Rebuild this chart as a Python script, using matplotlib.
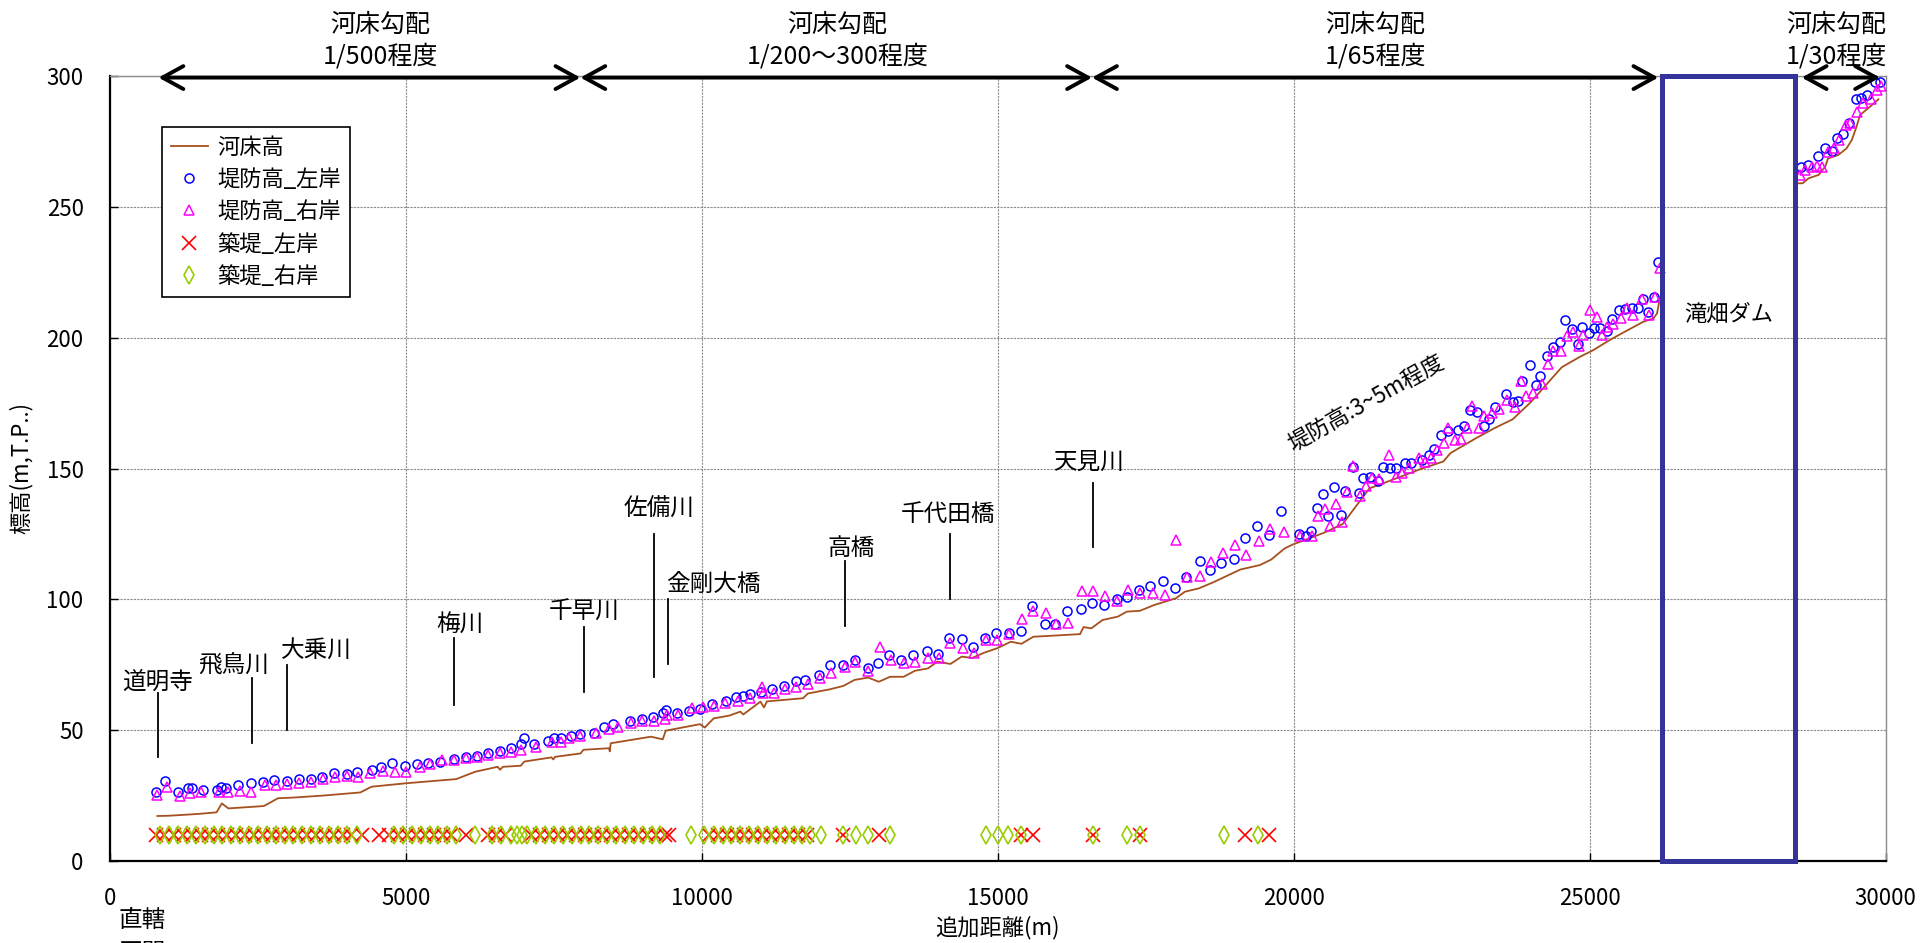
import matplotlib
matplotlib.use("Agg")
import matplotlib.pyplot as plt
import matplotlib.transforms as mtransforms
from matplotlib.patches import Rectangle

plt.rcParams["font.family"] = ["Noto Sans CJK JP", "DejaVu Sans"]

# ---- river bed profile (m, T.P.) ----
bed_lower_x = [800, 1000, 1500, 1800, 1890, 2000, 2600, 2840, 3070, 3600, 4230, 4420, 5000,
               5850, 6170, 6550, 6590, 6640, 6940, 7000, 7460, 7490, 7520, 7950, 8000, 8430,
               8445, 8460, 9140, 9340, 9390, 9970, 10050, 10200, 10470, 10650, 10700, 10990,
               11050, 11100, 11710, 11790, 12160, 12390, 12580, 12810, 12990, 13180, 13410,
               13600, 13820, 13980, 14200, 14390, 14570, 14770, 14990, 15220, 15400, 15600,
               16390, 16450, 16580, 16770, 17030, 17180, 17400, 17640, 18010, 18160, 18400,
               18640, 19100, 19430, 19620, 19850, 20000, 20230, 20530, 20830, 21020, 21280,
               21740, 22110, 22530, 22650, 23090, 23400, 23700, 24000, 24380, 24530, 24830,
               25060, 25340, 25630, 25910, 26080, 26140, 26180]
bed_lower_z = [17.2, 17.3, 18.0, 18.6, 22.0, 20.1, 21.0, 24.0, 24.2, 25.0, 26.2, 28.4, 29.7,
               31.3, 34.1, 36.0, 34.9, 36.0, 36.4, 38.0, 39.6, 38.8, 39.8, 41.1, 42.5, 43.1,
               41.9, 45.0, 47.5, 46.5, 49.8, 52.3, 51.0, 54.5, 55.6, 57.1, 56.0, 60.9,
               58.7, 61.0, 62.2, 64.0, 65.6, 66.9, 69.2, 70.1, 68.5, 70.4, 70.4,
               72.7, 73.6, 76.2, 75.3, 78.1, 77.6, 79.6, 81.3, 83.8, 83.0, 85.7,
               86.7, 89.4, 88.9, 92.1, 93.4, 95.3, 95.6, 97.8, 100.4, 102.9, 104.2,
               106.5, 111.4, 113.1, 115.2, 119.5, 121.1, 123.0, 125.6, 128.8, 134.6, 142.4,
               146.3, 149.5, 152.7, 155.9, 161.7, 165.5, 168.8, 175.2, 184.9, 188.7, 192.6,
               195.2, 199.1, 202.7, 206.1, 207.4, 209.3, 214.1]
bed_upper_x = [28530, 28600, 28700, 28870, 28980, 29030, 29200, 29340, 29430, 29510, 29570,
               29740, 29880]
bed_upper_z = [259.0, 259.0, 260.9, 262.2, 265.3, 268.5, 269.8, 272.3, 275.5, 280.6, 285.1,
               288.3, 291.1]

# ---- levee crown height, left bank ----
levee_left_x = [769, 930, 1157, 1318, 1383, 1577, 1803, 1868, 1965, 2159, 2385, 2579, 2773,
                2999, 3194, 3388, 3582, 3789, 4002, 4177, 4422, 4584, 4758, 4991, 5185, 5379,
                5573, 5812, 6007, 6201, 6395, 6589, 6783, 6944, 6989, 7170, 7397, 7494, 7623,
                7785, 7947, 8173,
                8355, 8506, 8793, 8997, 9170, 9336, 9396, 9577, 9789, 9977, 10166, 10407,
                10581, 10694, 10807, 10996, 11184, 11388, 11584, 11735, 11976, 12165, 12391,
                12595, 12806, 12972, 13168, 13371, 13575, 13801, 13990, 14179, 14390, 14578,
                14782, 14971, 15182, 15385, 15574, 15800, 15974, 16177, 16404, 16592, 16788,
                17007, 17181, 17392, 17580, 17799, 17988, 18176,
                18418, 18584, 18780, 18984, 19172, 19384, 19587, 19791, 20093, 20213, 20289,
                20394, 20500, 20583, 20681, 20802, 20870, 20998, 21096, 21179, 21284, 21420,
                21511, 21624, 21737, 21873, 21978, 22167, 22280, 22378, 22491, 22604, 22778,
                22883, 22981, 23095, 23208, 23306, 23396, 23585, 23698, 23789, 23864, 23985,
                24090, 24166,
                24275, 24388, 24501, 24585, 24698, 24799, 24878, 24996, 25075, 25176, 25289,
                25385, 25497, 25599, 25711, 25813, 25897, 25993, 26089, 26162,
                28567, 28696, 28865, 28978, 29090, 29175, 29288, 29389, 29502, 29580, 29682,
                29823, 29907]
levee_left_z = [26.5, 30.6, 26.5, 27.8, 27.8, 27.1, 27.1, 28.4, 27.8, 29.0, 29.7, 30.3, 31.0,
                30.7, 31.2, 31.5, 32.2, 33.8, 33.3, 34.1, 34.8, 36.0, 37.6, 36.3, 37.1, 37.3,
                38.0, 38.9, 39.9, 40.1, 41.1, 42.2, 43.1, 44.7, 46.9, 44.7, 46.0, 46.9, 46.9,
                47.8, 48.5, 49.0,
                51.1, 52.2, 53.6, 54.3, 54.9, 56.4, 57.7, 56.4, 57.3, 57.9, 59.9, 61.0,
                62.5, 63.1, 63.8, 64.7, 65.6, 66.9, 68.8, 69.2, 71.1, 74.9, 74.9,
                76.8, 73.6, 75.5, 78.7, 76.8, 78.7, 80.4, 79.1, 85.1, 84.7, 81.9,
                85.1, 87.0, 87.3, 88.0, 97.4, 90.6, 90.6, 95.5, 96.4, 98.5, 97.8,
                100.1, 101.0, 103.6, 105.1, 107.1, 104.2, 108.4,
                114.6, 111.4, 113.7, 115.3, 123.3, 128.2, 124.6, 133.6, 125.0, 124.3, 126.2,
                134.9, 140.1, 131.8, 143.0, 132.4, 141.4, 150.5, 140.7, 146.2, 146.6, 145.2,
                150.7, 150.1, 150.1, 152.0, 152.0, 153.3, 155.2, 157.5, 162.9, 164.2, 164.9,
                166.2, 172.2, 171.6, 166.2, 169.1, 173.5, 178.4, 175.6, 175.8, 183.6, 189.6,
                181.9, 185.5,
                193.0, 196.5, 198.5, 206.7, 203.2, 197.6, 203.9, 201.6, 203.8, 203.8, 202.7,
                207.0, 210.6, 210.8, 211.2, 211.2, 214.6, 209.9, 215.4, 228.8,
                265.3, 266.0, 269.4, 272.3, 271.5, 276.2, 277.8, 282.1, 291.1, 291.5, 292.7,
                297.8, 297.8]

# ---- levee crown height, right bank ----
levee_right_x = [801, 963, 1189, 1351, 1545, 1836, 1997, 2191, 2385, 2612, 2806, 2999, 3194,
                 3388, 3595, 3808, 4002, 4196, 4390, 4616, 4810, 5004, 5230, 5405, 5618, 5812,
                 6007, 6201, 6395, 6589, 6783, 6944, 7203, 7461, 7623, 7752, 7947, 8205,
                 8431, 8582, 8808, 8997, 9185, 9374, 9411, 9600, 9826, 10015, 10203, 10392,
                 10618, 10807, 11011, 11033, 11222, 11410, 11599, 11787, 11991, 12187, 12414,
                 12595, 12806, 13009, 13198, 13409, 13598, 13824, 14013, 14201, 14405, 14601,
                 14805, 14993, 15197, 15408, 15597, 15808, 15989, 16185, 16426, 16615, 16804,
                 17007, 17196, 17407, 17618, 17822, 18010, 18199,
                 18418, 18607, 18810, 19006, 19195, 19414, 19602, 19829, 20115, 20304, 20417,
                 20530, 20621, 20719, 20817, 20907, 20998, 21118, 21224, 21322, 21435, 21609,
                 21722, 21827, 21948, 22114, 22227, 22325, 22416, 22544, 22604, 22718, 22831,
                 22921, 23019, 23132, 23208, 23359, 23472, 23608, 23736, 23834, 23924, 24037,
                 24188, 24301,
                 24377, 24517, 24613, 24726, 24822, 24895, 25007, 25120, 25205, 25289, 25402,
                 25526, 25627, 25728, 25880, 26004, 26106, 26190,
                 28555, 28640, 28753, 28837, 28922, 29023, 29130, 29220, 29333, 29400, 29524,
                 29625, 29749, 29851, 29918]
levee_right_z = [25.2, 28.4, 24.8, 25.9, 26.5, 26.5, 26.5, 26.9, 26.5, 29.0, 29.0, 29.4, 29.7,
                 30.3, 31.2, 32.2, 32.5, 32.2, 33.8, 34.5, 34.1, 34.1, 36.0, 37.1, 38.6, 38.6,
                 39.2, 39.6, 40.5, 41.4, 41.8, 42.4, 43.7, 45.6, 45.6, 46.9, 47.8, 48.8,
                 50.3, 51.1, 52.9, 53.6, 53.6, 54.1, 55.8, 55.8, 58.3, 59.0, 59.2, 60.5,
                 61.3, 62.2, 66.4, 64.1, 64.1, 65.6, 66.6, 67.6, 69.8, 72.0, 74.3,
                 76.2, 72.7, 81.9, 76.8, 75.5, 76.2, 77.5, 77.5, 83.2, 81.3, 79.6,
                 84.5, 84.5, 86.7, 92.4, 95.7, 94.9, 90.4, 90.8, 103.3, 103.3, 101.3,
                 99.5, 103.6, 102.3, 102.3, 101.7, 122.7, 108.7,
                 108.8, 114.3, 117.6, 120.8, 116.8, 122.4, 126.9, 125.6, 124.1, 124.3, 131.8,
                 134.6, 128.2, 136.5, 129.7, 141.1, 151.1, 139.5, 143.4, 146.2, 145.9, 155.2,
                 146.9, 148.1, 150.1, 154.2, 152.4, 153.9, 157.2, 159.7, 165.5, 161.0, 161.4,
                 165.3, 173.9, 165.5, 170.0, 171.3, 172.6, 176.1, 173.5, 183.6, 177.8, 178.7,
                 182.3, 190.0,
                 195.0, 195.0, 200.6, 202.3, 196.8, 201.0, 210.6, 208.0, 201.0, 204.2, 205.1,
                 207.6, 211.2, 208.6, 214.6, 208.6, 215.4, 226.5,
                 262.1, 264.1, 265.3, 265.6, 265.3, 271.1, 272.3, 275.5, 281.3, 281.9, 286.4,
                 289.5, 291.1, 294.6, 296.2]

# ---- stations with embankment works (plotted on a marker row) ----
embank_row_level = 10
embank_left_x = [780, 920, 1080, 1230, 1380, 1530, 1680, 1830, 1980, 2130, 2280, 2430, 2580,
                 2730, 2880, 3030, 3180, 3330, 3480, 3630, 3780, 3930, 4080, 4250,
                 4550, 4720, 4870, 5020, 5170, 5320, 5470, 5620, 5770, 6010,
                 6380, 6530, 6680,
                 7120, 7270, 7420, 7570, 7720, 7870, 8020, 8170, 8320, 8470, 8620, 8770, 8920,
                 9070, 9220, 9370, 9450,
                 10120, 10270, 10420, 10570, 10720, 10870, 11020, 11170, 11320, 11470, 11620,
                 11770,
                 12390, 12990, 15400, 15600, 16610, 17400, 19180, 19590]
embank_right_x = [850, 1000, 1150, 1300, 1450, 1600, 1750, 1900, 2050, 2200, 2350, 2500, 2650,
                  2800, 2950, 3100, 3250, 3400, 3550, 3700, 3850, 4000, 4170,
                  4800, 4950, 5100, 5250, 5400, 5550, 5700, 5850,
                  6170, 6450, 6600, 6780, 6870, 6960, 7040,
                  7200, 7350, 7500, 7650, 7800, 7950, 8100, 8250, 8400, 8550, 8700, 8850, 9000,
                  9150, 9300,
                  9820, 10030,
                  10200, 10350, 10500, 10650, 10800, 10950, 11100, 11250, 11400, 11550, 11700,
                  11830,
                  12010, 12390, 12600, 12800, 13180, 14800, 15000, 15180, 15400, 16610, 17180,
                  17400, 18820, 19400]

# ---- landmarks along the river ----
landmark_names = ["道明寺", "飛鳥川", "大乗川", "梅川", "千早川", "佐備川", "金剛大橋",
                  "高橋", "千代田橋", "天見川"]
landmark_x = [814, 2405, 2999, 5813, 8011, 9200, 9433, 12412, 14187, 16604]

# ---- bed slope reaches ----
reach_start = [819, 7948, 16593, 28584]
reach_end = [7948, 16593, 26162, 29908]
reach_slope = ["1/500程度", "1/200～300程度", "1/65程度", "1/30程度"]

dam_name = "滝畑ダム"
dam_start, dam_end = 26220, 28472

# ---------------------------------------------------------------------------
W, H = 1921, 943
fig = plt.figure(figsize=(W / 100, H / 100), dpi=100)
ax = fig.add_axes([110 / W, (H - 861) / H, 1775.5 / W, 785 / H])

ax.set_xlim(0, 30000)
ax.set_ylim(0, 300)
ax.set_xticks(range(0, 30001, 5000))
ax.set_yticks(range(0, 301, 50))
ax.grid(True, color="#8c8c8c", linestyle=(0, (2, 1)), linewidth=0.8)
ax.set_axisbelow(True)
ax.tick_params(direction="in", length=6, width=1.0, labelsize=16, pad=19)

for side in ("left", "bottom"):
    ax.spines[side].set_color("black")
    ax.spines[side].set_linewidth(1.6)
for side in ("top", "right"):
    ax.spines[side].set_color("#8c8c8c")
    ax.spines[side].set_linewidth(1.0)

bed_color = "#A5501E"
ax.plot(bed_lower_x, bed_lower_z, color=bed_color, lw=1.3, label="河床高", zorder=3)
ax.plot(bed_upper_x, bed_upper_z, color=bed_color, lw=1.3, zorder=3)
ax.plot(levee_left_x, levee_left_z, ls="none", marker="o", ms=6.5, mfc="none",
        mec="#0000FF", mew=1.1, label="堤防高_左岸", zorder=4)
ax.plot(levee_right_x, levee_right_z, ls="none", marker="^", ms=7.5, mfc="none",
        mec="#FF00FF", mew=1.1, label="堤防高_右岸", zorder=4)
ax.plot(embank_left_x, [embank_row_level] * len(embank_left_x), ls="none", marker="x",
        ms=10, mec="#FF0000", mew=1.2, label="築堤_左岸", zorder=4)
ax.plot(embank_right_x, [embank_row_level] * len(embank_right_x), ls="none", marker="d",
        ms=9, mfc="none", mec="#99CC00", mew=1.2, label="築堤_右岸", zorder=4)

# dam reach frame
ax.add_patch(Rectangle((dam_start, 0), dam_end - dam_start, 300, fill=False,
                       ec="#333399", lw=3.6, clip_on=False, zorder=6))
ax.text((dam_start + dam_end) / 2, 209, dam_name, fontsize=16, ha="center", va="center")

# landmark labels with leader lines
label_pos = [(801, 68.5), (2095, 74.9), (3484, 80.4), (5904, 90.3), (8016, 94.9),
             (9283, 134.3), (10187, 105.5), (12519, 119.5), (14163, 132.5), (16531, 152.2)]
leader_span = [(39.6, 64.3), (45.0, 69.8), (50.1, 74.9), (59.6, 85.1), (64.7, 89.5),
               (70.2, 125.0), (75.2, 100.0), (89.8, 114.6), (100.1, 124.9), (119.9, 144.6)]
for name, lx, (tx, ty), (y0, y1) in zip(landmark_names, landmark_x, label_pos, leader_span):
    ax.plot([lx, lx], [y0, y1], color="black", lw=1.3, zorder=5)
    ax.text(tx, ty, name, fontsize=17, ha="center", va="center", zorder=5)

ax.text(21234, 174.6, "堤防高:3~5m程度", fontsize=16, rotation=29,
        ha="center", va="center", rotation_mode="anchor")

# bed-slope arrows and captions above the plot
top_tf = mtransforms.blended_transform_factory(ax.transData, fig.transFigure)
for x0, x1 in zip(reach_start, reach_end):
    ax.annotate("", xy=(x1, 299.4), xytext=(x0, 299.4),
                arrowprops=dict(arrowstyle="<->,head_length=1.0,head_width=0.55",
                                mutation_scale=15, lw=2.8, color="black",
                                shrinkA=0, shrinkB=0),
                annotation_clip=False, zorder=7)
caption_x = [4562, 12293, 21376, 29174]
for cx, slope in zip(caption_x, reach_slope):
    ax.text(cx, 1 - 24.5 / H, "河床勾配", transform=top_tf, fontsize=18,
            ha="center", va="center")
    ax.text(cx, 1 - 56.4 / H, slope, transform=top_tf, fontsize=18,
            ha="center", va="center")

ax.set_xlabel("追加距離(m)", fontsize=16, labelpad=4)
ax.set_ylabel("標高(m,T.P..)", fontsize=16, labelpad=10)

# jurisdiction note below the origin; its second line runs off the lower edge
fig.text(142 / W, 1 - 920 / H, "直轄", fontsize=17, ha="center", va="center")
fig.text(142 / W, 1 - 953 / H, "区間", fontsize=17, ha="center", va="center")

leg = ax.legend(loc="upper left", bbox_to_anchor=(0.0291, 0.9354), borderaxespad=0,
                fontsize=16, handlelength=1.7, handletextpad=0.4, borderpad=0.4,
                labelspacing=0.42, fancybox=False, framealpha=1, edgecolor="black",
                numpoints=1)
leg.get_frame().set_linewidth(1.2)

fig.savefig("out.png", dpi=100)
